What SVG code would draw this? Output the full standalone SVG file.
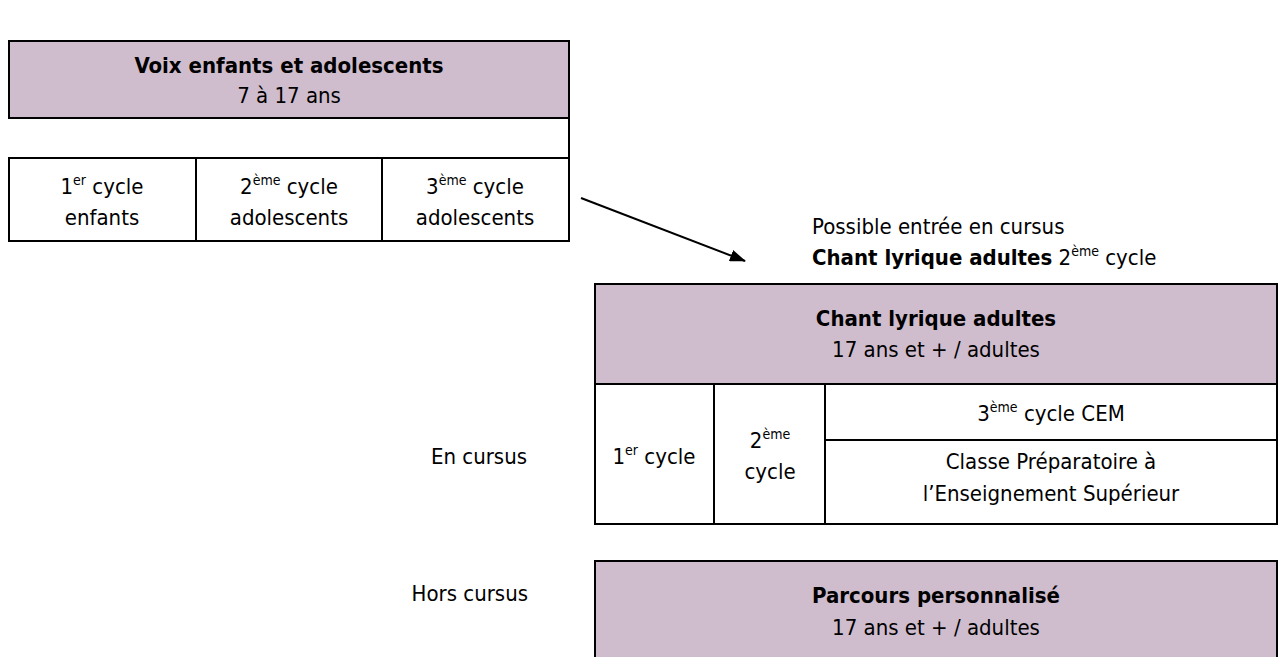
<svg xmlns="http://www.w3.org/2000/svg" width="1287" height="657" viewBox="0 0 1287 657">
<style>
text{font-family:"DejaVu Sans Condensed","DejaVu Sans","Liberation Sans",sans-serif;font-size:22px;fill:#000}
.b{font-weight:bold}
.c{text-anchor:middle}
.r{text-anchor:end}
.sup{font-size:14px}
.head{fill:#CFBDCE;stroke:#000;stroke-width:2}
.cell{fill:#fff;stroke:#000;stroke-width:2}
.ln{stroke:#000;stroke-width:2;fill:none}
</style>
<defs>
<marker id="ah" markerWidth="16" markerHeight="12" refX="15" refY="6" orient="auto" markerUnits="userSpaceOnUse" viewBox="0 0 16 12">
<path d="M0,0 L16,6 L0,12 z" fill="#000"/>
</marker>
</defs>
<rect width="1287" height="657" fill="#fff"/>
<g id="voix">
<rect class="head" x="9" y="41" width="560" height="77"/>
<line class="ln" x1="569" y1="118" x2="569" y2="158"/>
<text class="c b" x="289" y="73">Voix enfants et adolescents</text>
<text class="c" x="289" y="103">7 à 17 ans</text>
</g>
<g id="voix-cycles">
<rect class="cell" x="9" y="158" width="560" height="83"/>
<line class="ln" x1="196" y1="158" x2="196" y2="241"/>
<line class="ln" x1="382" y1="158" x2="382" y2="241"/>
<text class="c" x="102" y="194">1<tspan class="sup" dy="-9">er</tspan><tspan dy="9"> cycle</tspan></text>
<text class="c" x="102" y="225">enfants</text>
<text class="c" x="289" y="194">2<tspan class="sup" dy="-9">ème</tspan><tspan dy="9"> cycle</tspan></text>
<text class="c" x="289" y="225">adolescents</text>
<text class="c" x="475" y="194">3<tspan class="sup" dy="-9">ème</tspan><tspan dy="9"> cycle</tspan></text>
<text class="c" x="475" y="225">adolescents</text>
</g>
<g id="entree">
<text x="812" y="234">Possible entrée en cursus</text>
<text x="812" y="265"><tspan class="b">Chant lyrique adultes</tspan> 2<tspan class="sup" dy="-9">ème</tspan><tspan dy="9"> cycle</tspan></text>
</g>
<g id="chant">
<rect class="head" x="595" y="284" width="682" height="100"/>
<text class="c b" x="936" y="326">Chant lyrique adultes</text>
<text class="c" x="936" y="357">17 ans et + / adultes</text>
</g>
<g id="chant-cycles">
<rect class="cell" x="595" y="384" width="682" height="140"/>
<line class="ln" x1="714" y1="384" x2="714" y2="524"/>
<line class="ln" x1="825" y1="384" x2="825" y2="524"/>
<line class="ln" x1="825" y1="440" x2="1277" y2="440"/>
<text class="c" x="654" y="464">1<tspan class="sup" dy="-9">er</tspan><tspan dy="9"> cycle</tspan></text>
<text class="c" x="770" y="448">2<tspan class="sup" dy="-9">ème</tspan></text>
<text class="c" x="770" y="479">cycle</text>
<text class="c" x="1051" y="421">3<tspan class="sup" dy="-9">ème</tspan><tspan dy="9"> cycle CEM</tspan></text>
<text class="c" x="1051" y="469">Classe Préparatoire à</text>
<text class="c" x="1051" y="501">l’Enseignement Supérieur</text>
</g>
<g id="en-cursus">
<text class="r" x="527" y="464">En cursus</text>
</g>
<g id="parcours">
<rect class="head" x="595" y="561" width="682" height="110"/>
<text class="c b" x="936" y="603">Parcours personnalisé</text>
<text class="c" x="936" y="635">17 ans et + / adultes</text>
</g>
<g id="hors-cursus">
<text class="r" x="528" y="601">Hors cursus</text>
</g>
<g id="connectors">
<line class="ln" x1="581" y1="198" x2="745" y2="261" marker-end="url(#ah)"/>
</g>
</svg>
